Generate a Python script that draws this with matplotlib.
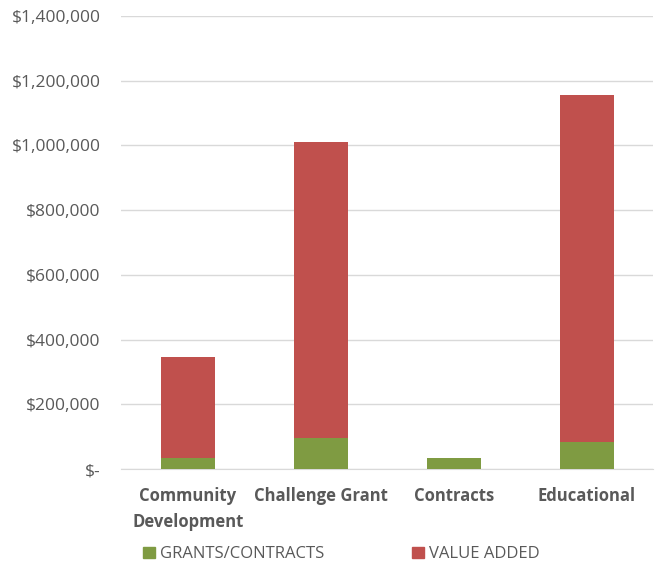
import matplotlib.pyplot as plt
from matplotlib.ticker import FuncFormatter
import matplotlib.patches as mpatches

categories = ["Community\nDevelopment", "Challenge Grant", "Contracts", "Educational"]
grants = [35000, 95000, 33000, 82000]
value_added = [312000, 915000, 0, 1075000]

GREEN = "#7F9B42"
RED = "#C0504D"
TEXT = "#595959"

plt.rcParams["font.family"] = ["Open Sans", "DejaVu Sans"]

fig = plt.figure(figsize=(6.66, 5.64), dpi=100)
ax = fig.add_axes([0.1824, 0.1684, 0.7988, 0.8032])

x = range(len(categories))
ax.bar(x, grants, width=0.405, color=GREEN, zorder=3)
ax.bar(x, value_added, width=0.405, bottom=grants, color=RED, zorder=3)

ax.set_xlim(-0.5, len(categories) - 0.5)
ax.set_ylim(0, 1400000)
ax.set_yticks(range(0, 1400001, 200000))


def money(v, pos):
    if v == 0:
        return "$-"
    return f"${v:,.0f}"


ax.yaxis.set_major_formatter(FuncFormatter(money))
ax.yaxis.grid(True, color="#D9D9D9", lw=1, zorder=0)
for s in ["top", "right", "left"]:
    ax.spines[s].set_visible(False)
ax.spines["bottom"].set_color("#D9D9D9")
ax.tick_params(axis="y", length=0, pad=15, labelsize=12.5, labelcolor=TEXT)
ax.tick_params(axis="x", length=0, pad=13, labelsize=12, labelcolor=TEXT)
ax.set_xticks(list(x))
ax.set_xticklabels(categories, fontweight="bold", linespacing=1.6)

handles = [mpatches.Patch(color=GREEN, label="GRANTS/CONTRACTS"),
           mpatches.Patch(color=RED, label="VALUE ADDED")]
fig.legend(handles=handles, loc="center left", bbox_to_anchor=(0.192, 0.017),
           ncol=2, frameon=False, fontsize=12, labelcolor=TEXT,
           handlelength=0.7, handleheight=0.7, handletextpad=0.3,
           columnspacing=5.3)

plt.savefig("out.png", dpi=100)
